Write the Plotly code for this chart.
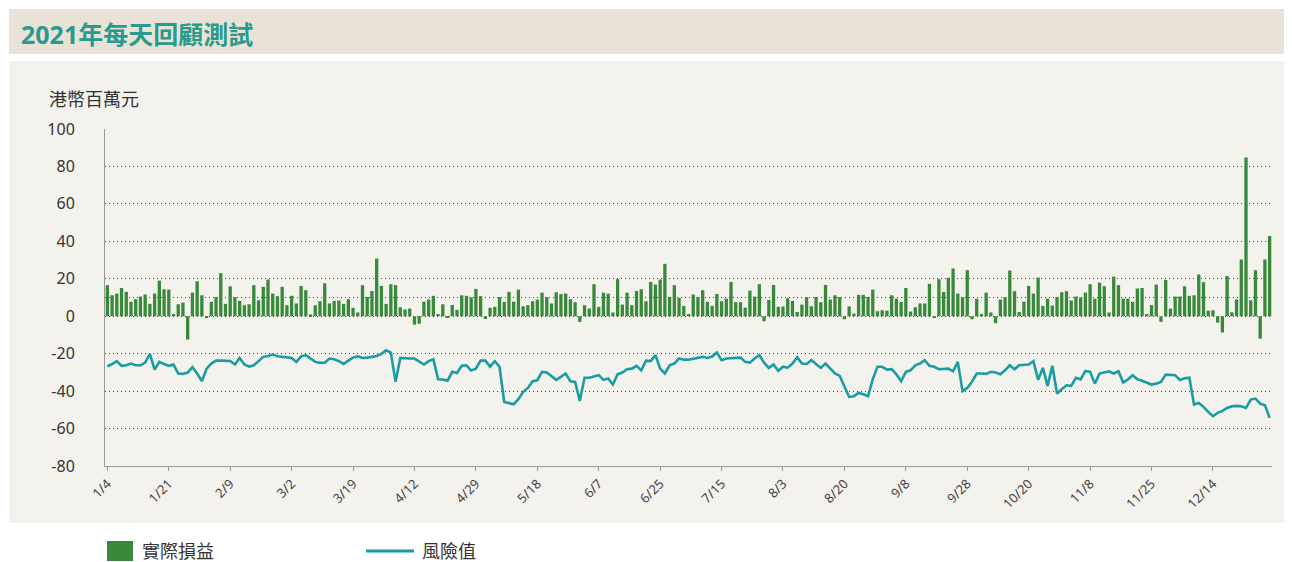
import pandas as pd
import plotly.graph_objects as go

# Hong Kong trading-day calendar for 2021 (weekday holidays / closures removed)
hk_closed_days = ["2021-01-01", "2021-02-12", "2021-02-15", "2021-04-02", "2021-04-05",
                  "2021-04-06", "2021-05-19", "2021-06-14", "2021-07-01", "2021-09-22",
                  "2021-10-01", "2021-10-13", "2021-10-14", "2021-12-27"]
trading_days = [d for d in pd.bdate_range("2021-01-01", "2021-12-31")
                if d.strftime("%Y-%m-%d") not in hk_closed_days]
dates = [f"{d.month}/{d.day}" for d in trading_days]

tick_labels = ["1/4", "1/21", "2/9", "3/2", "3/19", "4/12", "4/29", "5/18", "6/7", "6/25",
               "7/15", "8/3", "8/20", "9/8", "9/28", "10/20", "11/8", "11/25", "12/14"]
y_ticks = [100, 80, 60, 40, 20, 0, -20, -40, -60, -80]
y_tick_text = ["100", "80", "60", "40", "20", "0", "-20", "-40", "-60", "-80"]

actual_pnl = [
    16.6, 11.2, 12.1, 15.1, 13, 7.7, 9.1, 10.5, 11.6, 6.6, 12.1, 19, 14.4, 14.2, 1.2, 6.4, 7.3, -12.5, 12.6, 18.7,
    11.2, -1, 7.7, 10.2, 23, 6.6, 16, 10.2, 8.2, 5.9, 6.4, 16.6, 8.5, 15.7, 19.6, 12.1, 10.7, 15.7, 5.9, 10.9,
    6.8, 16.2, 13.9, 1, 5.9, 8, 17.6, 6.8, 8.2, 8.4, 6.6, 9.1, 4.5, 2, 16.6, 10.3, 13.5, 30.8, 16.2, 6.6,
    17.1, 16.6, 4.8, 3.6, 4.1, -4.5, -4, 7.8, 8.9, 10.9, 1.2, 6.4, -1, 6, 3.4, 11.2, 10.9, 10, 14.6, 10.7,
    -1.5, 4.5, 5, 10.2, 7.7, 13, 7.8, 14.2, 5.3, 5.9, 8, 8.9, 12.6, 10.2, 6.8, 12.8, 11.8, 12.1, 9.1, 7.5,
    -3, 5.9, 4.1, 17.1, 5, 12.6, 12.1, 2, 19.8, 6.2, 12.6, 5.9, 13.5, 14.4, 8, 18.3, 16.9, 19.6, 28, 10.3,
    16.6, 9.8, 5.5, 1.2, 11.6, 10.3, 13.9, 7.7, 5.5, 11.9, 8, 9.4, 18.3, 7.5, 7.5, 4.6, 13.7, 10.5, 17.1, -2.7,
    8.7, 16.7, 5, 5.2, 9.6, 8.2, 2.3, 6.2, 10.2, 5.3, 10.3, 7.5, 16.7, 8.9, 11.2, 10.2, -1.6, 5.3, 1.4, 11.4,
    11.4, 10.3, 14.2, 2.7, 3.2, 3, 11.2, 9.4, 7.7, 15.1, 2.5, 4.8, 6.8, 6.8, 17.3, -1, 19.8, 13, 20.5, 25.5,
    12.1, 10.2, 24.6, -1.6, 9.3, 1.2, 12.6, 2, -3.7, 8.9, 10.2, 24.4, 13.4, 2.3, 7.8, 16.2, 12.1, 20.7, 5.5, 9.4,
    5.7, 10.3, 12.8, 13.4, 8.4, 10.5, 10, 12.6, 17.1, 9.4, 18, 16, 2, 21.2, 16.6, 9.4, 9.4, 7.7, 14.8, 15.1,
    1.2, 5.9, 16.9, -3, 19.4, 4.1, 10.5, 10.5, 16, 10.9, 11.2, 22.3, 18.2, 3, 3.2, -3.4, -8.7, 21.5, 2.1, 8.9,
    30.3, 84.8, 8.5, 24.6, -12, 30.3, 42.9]

value_at_risk = [
    -26.7, -25.6, -24, -26.5, -26.2, -25.3, -26.2, -26.2, -24.8, -20.1, -28.5, -24.4, -25.5, -26.5, -25.8, -30.6, -30.8, -30.1, -27.2, -30.6,
    -34.7, -28, -25.3, -23.7, -23.7, -23.7, -23.9, -25.8, -22.3, -25.8, -26.9, -26.2, -24, -21.7, -21.2, -20.5, -21.4, -21.7, -22.1, -22.3,
    -24.4, -21.4, -20.8, -22.6, -24.4, -24.9, -24.8, -22.6, -23, -24, -25.5, -23.7, -22.1, -21.4, -22.3, -22.1, -21.7, -21.2, -20.1, -18.2,
    -19.4, -35, -22.3, -22.6, -22.6, -22.6, -24.4, -25.8, -24, -23, -33.7, -33.8, -34.4, -29.7, -30.3, -26.5, -26.2, -29, -28, -23.7,
    -23.7, -26.9, -24, -27, -45.8, -46.3, -47, -44.3, -40.4, -38.3, -34.7, -34.2, -29.7, -30.1, -31.9, -34, -32.4, -30.6, -34.7, -35.1,
    -45.2, -32.9, -32.9, -32.3, -31.5, -34, -33.3, -36.5, -31, -30.1, -28.3, -28, -26.5, -28.9, -23.7, -24, -20.8, -28, -30.6, -26.2,
    -25.3, -22.6, -23.2, -23.2, -22.6, -21.9, -21.7, -22.3, -21.5, -19.4, -23.5, -22.6, -22.3, -22.1, -22.1, -24.4, -24.8, -22.6, -20.8, -24.8,
    -27.6, -25.8, -29.2, -27, -27.5, -25.3, -21.9, -25.3, -25.5, -23.5, -25.8, -27.6, -25.3, -28, -30.6, -31.9, -37.8, -43.1, -42.7, -41,
    -41.7, -42.7, -33.7, -27, -27, -28.5, -28.3, -31, -34.7, -29.7, -28.9, -26.2, -25.3, -23.5, -26.5, -27, -28.3, -28, -28, -29.4,
    -24.4, -40, -38.3, -35, -30.6, -30.6, -30.8, -29.7, -30.1, -31, -28.9, -26.2, -28.3, -26.2, -26.2, -25.8, -24, -34, -27.6, -37.2,
    -26.5, -41.3, -39, -36.9, -37.2, -32.9, -33.7, -29.2, -29.7, -36, -30.6, -30.1, -29.4, -30.6, -29.4, -35.4, -33.8, -31.5, -33.7, -34.5,
    -35.4, -36.5, -36, -35.1, -31.2, -31.5, -31.5, -34, -33.1, -32.8, -47.2, -46.3, -48.4, -51.1, -53.4, -51.6, -50.6, -49, -48.1, -47.9,
    -48.1, -49, -44.5, -44, -46.7, -47.6, -54.3]

W, H = 1292, 562
OFFSET = 8  # the page body margin places the figure at (8, 8)
GREEN = "#388a3a"
TEAL = "#1a9ca3"
FONT = "Noto Sans, Noto Sans CJK TC, sans-serif"
GRID_DASH = "1px,3px"


def px(x):
    return (x - OFFSET) / W


def py(y):
    return 1 - (y - OFFSET) / H


fig = go.Figure()
fig.add_trace(go.Bar(x=dates, y=actual_pnl, name="實際損益", marker=dict(color=GREEN, line=dict(width=0)),
                     width=0.7, showlegend=False))
fig.add_trace(go.Scatter(x=dates, y=value_at_risk, name="風險值", mode="lines",
                         line=dict(color=TEAL, width=2.6), showlegend=False))

shapes = [
    # title band
    dict(type="rect", xref="paper", yref="paper", x0=px(9), x1=px(1290), y0=py(54), y1=py(9),
         fillcolor="#e9e3d7", line=dict(width=0), layer="below"),
    # chart panel
    dict(type="rect", xref="paper", yref="paper", x0=px(9), x1=px(1290), y0=py(523), y1=py(61),
         fillcolor="#f4f2ed", line=dict(width=0), layer="below"),
    # extra dotted reference at 10
    dict(type="line", xref="paper", yref="y", x0=px(105), x1=px(1272), y0=10, y1=10,
         line=dict(color="#444444", width=1, dash=GRID_DASH), layer="below"),
    # legend markers
    dict(type="rect", xref="paper", yref="paper", x0=px(107), x1=px(133), y0=py(561), y1=py(541),
         fillcolor=GREEN, line=dict(width=0)),
    dict(type="line", xref="paper", yref="paper", x0=px(366), x1=px(414), y0=py(551), y1=py(551),
         line=dict(color=TEAL, width=3)),
]

annotations = [
    dict(text="<b>2021年每天回顧測試</b>", xref="paper", yref="paper", x=px(19), y=py(34),
         xanchor="left", yanchor="middle", showarrow=False, font=dict(size=25, color="#2a9a8e", family=FONT)),
    dict(text="港幣百萬元", xref="paper", yref="paper", x=px(47), y=py(99),
         xanchor="left", yanchor="middle", showarrow=False, font=dict(size=18, color="#333333", family=FONT)),
    dict(text="實際損益", xref="paper", yref="paper", x=px(140), y=py(551),
         xanchor="left", yanchor="middle", showarrow=False, font=dict(size=18, color="#333333", family=FONT)),
    dict(text="風險值", xref="paper", yref="paper", x=px(420), y=py(551),
         xanchor="left", yanchor="middle", showarrow=False, font=dict(size=18, color="#333333", family=FONT)),
]

fig.update_layout(
    width=W, height=H,
    margin=dict(l=0, r=0, t=0, b=0),
    paper_bgcolor="white", plot_bgcolor="rgba(0,0,0,0)",
    font=dict(family=FONT, size=14, color="#333333"),
    bargap=0.3,
    shapes=shapes, annotations=annotations,
    xaxis=dict(type="category", domain=[px(105), px(1272)], range=[-0.5, len(dates) - 0.5],
               tickmode="array", tickvals=tick_labels, ticktext=tick_labels, tickangle=-45,
               tickfont=dict(size=13, color="#444444"), showgrid=False, showline=True,
               linecolor="#9a9a9a", linewidth=1, ticks="outside", ticklen=4, tickcolor="#9a9a9a",
               zeroline=False, automargin=False),
    yaxis=dict(domain=[py(466), py(129)], range=[-80, 100], tickmode="array",
               tickvals=y_ticks, ticktext=y_tick_text,
               tickfont=dict(size=16, color="#333333"), showgrid=True, gridcolor="#444444",
               griddash=GRID_DASH, gridwidth=1, zeroline=False, showline=True, linecolor="#9a9a9a",
               linewidth=1, ticks="", ticklabelstandoff=26, automargin=False),
)

fig.write_html("out.html")
